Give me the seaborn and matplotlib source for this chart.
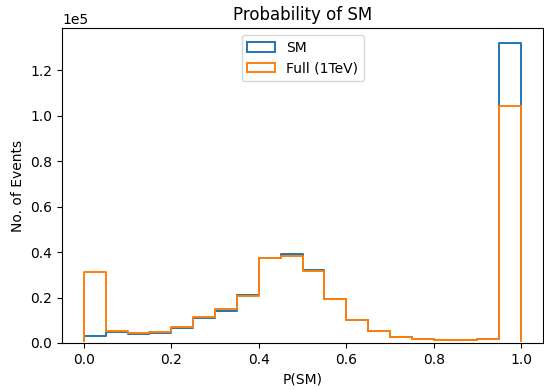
import numpy as np
import pandas as pd
import matplotlib
matplotlib.use('Agg')
import matplotlib.pyplot as plt
from matplotlib.patches import Patch, Rectangle
from matplotlib.transforms import ScaledTranslation
import seaborn as sns

# Data (20 bins of width 0.05)
bin_edges = np.linspace(0, 1, 21)
bin_centers = (bin_edges[:-1] + bin_edges[1:]) / 2
sm_counts = [3100, 4700, 3800, 4500, 6600, 11000, 14200, 21100, 37500, 39100,
             32200, 19200, 10300, 5400, 2800, 1900, 1300, 1300, 1600, 132000]
full_counts = [31300, 5400, 4200, 4800, 6900, 11300, 14800, 20700, 37200, 38400,
               31600, 19200, 10300, 5400, 2800, 1900, 1300, 1300, 1600, 104200]
labels = ['SM', 'Full (1TeV)']
colors = ['#1f77b4', '#ff7f0e']

fig, ax = plt.subplots(figsize=(5.44, 3.9), dpi=100)

# clip just above the x axis so the closing baseline of the outline is hidden
clip = Rectangle((0, 0), 1, 1.2, transform=ax.transAxes +
                 ScaledTranslation(0, 0.5 / 72, fig.dpi_scale_trans))

for counts, color in zip([sm_counts, full_counts], colors):
    df = pd.DataFrame({'p': bin_centers, 'n': counts})
    sns.histplot(data=df, x='p', weights='n', bins=list(bin_edges),
                 element='step', fill=True, color=color, ax=ax)
    # outline only, like a step histogram
    coll = ax.collections[-1]
    coll.set_facecolor('none')
    coll.set_edgecolor(color)
    coll.set_alpha(1)
    coll.set_linewidth(1.4)
    coll.set_clip_path(clip)

ax.set_xlim(-0.05, 1.05)
ax.ticklabel_format(axis='y', style='sci', scilimits=(0, 0))
ax.set_xlabel('P(SM)')
ax.set_ylabel('No. of Events')
ax.set_title('Probability of SM')

handles = [Patch(facecolor='none', edgecolor=c, linewidth=1.4) for c in colors]
ax.legend(handles, labels, loc='upper center')

fig.subplots_adjust(left=62 / 544, right=543 / 544, top=1 - 28 / 390,
                    bottom=1 - 343 / 390)
plt.savefig('out.png', dpi=100)
